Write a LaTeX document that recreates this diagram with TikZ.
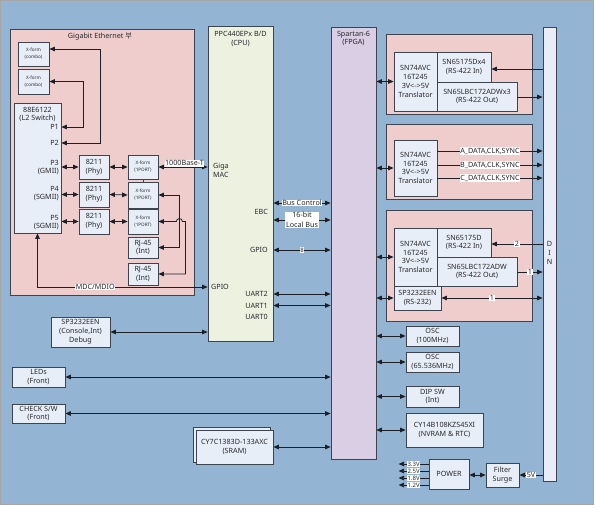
\documentclass[tikz,border=0pt]{standalone}
\usepackage{fontspec}
\setmainfont{Noto Sans}
\newfontfamily\krfont{Noto Sans CJK KR}
\usetikzlibrary{arrows.meta}
\definecolor{bgblue}{RGB}{148,180,211}
\definecolor{pinkbg}{RGB}{239,205,205}
\definecolor{boxbg}{RGB}{232,238,247}
\definecolor{cpubg}{RGB}{237,241,224}
\definecolor{fpgabg}{RGB}{217,206,227}
\definecolor{dinbg}{RGB}{234,237,247}
\definecolor{edgegray}{RGB}{62,68,78}
\definecolor{linegray}{RGB}{28,32,38}
\definecolor{txtgray}{RGB}{40,40,45}
\newcommand{\fnt}{\fontsize{7.2}{8.8}\selectfont}
\newcommand{\tfnt}{\fontsize{4.6}{7}\selectfont}
\newcommand{\pfnt}{\fontsize{6}{6}\selectfont}

\begin{document}
\begin{tikzpicture}
  [x=1pt,y=-1pt,>={Triangle[length=5.5pt,width=4.6pt]},
   every node/.style={font=\fnt,inner sep=0pt,align=center,text=txtgray},
   bx/.style 2 args={minimum width=#1,minimum height=#2},
   grp/.style={draw=edgegray,fill=pinkbg,line width=0.9pt},
   blk/.style={draw=edgegray,fill=boxbg,line width=0.8pt},
   lbl/.style={fill=white,inner sep=0.6pt},
   link/.style={<->,draw=linegray,line width=0.8pt},
   arr/.style={->,draw=linegray,line width=0.8pt}]

  \useasboundingbox (0,0) rectangle (595,507);
  \fill[white] (0,0) rectangle (595,507);
  \draw[fill=bgblue,draw=gray!70] (0.5,0.5) rectangle (593,504);

  % gigabit ethernet part
  \node[grp,bx={184}{266}] (geth) at (102,162) {};
  \node (gtitle) at (100,37) {Gigabit Ethernet {\krfont 부}};
  \node[blk,bx={31}{24},font=\tfnt] (xfc1) at (33.5,54) {X-form\\(combo)};
  \node[blk,bx={31}{25},font=\tfnt] (xfc2) at (33.5,81.5) {X-form\\(combo)};
  \node[blk,bx={47}{130}] (sw) at (37.5,168) {};
  \node (swname) at (37.5,114.5) {88E6122\\(L2 Switch)};
  \node[anchor=east] (p1) at (59,127) {P1};
  \node[anchor=east] (p2) at (59,143) {P2};
  \node[anchor=east,align=right] (p3) at (59,167.5) {P3\\(GMII)};
  \node[anchor=east,align=right] (p4) at (59,193.5) {P4\\(SGMII)};
  \node[anchor=east,align=right] (p5) at (59,222.5) {P5\\(SGMII)};

  \node[blk,bx={30}{24}] (phy1) at (94,167) {8211\\(Phy)};
  \node[blk,bx={30}{25}] (phy2) at (94,194.5) {8211\\(Phy)};
  \node[blk,bx={30}{25}] (phy3) at (94,221.5) {8211\\(Phy)};
  \node[blk,bx={30}{24},font=\tfnt] (xf1) at (143,167) {X-form\\(1PORT)};
  \node[blk,bx={30}{26},font=\tfnt] (xf2) at (143,195) {X-form\\(1PORT)};
  \node[blk,bx={30}{25},font=\tfnt] (xf3) at (143,221.5) {X-form\\(1PORT)};
  \node[blk,bx={30}{21}] (rj1) at (143,247.5) {RJ-45\\(Int)};
  \node[blk,bx={30}{22}] (rj2) at (143,274) {RJ-45\\(Int)};

  % cpu and fpga
  \node[draw=edgegray,fill=cpubg,line width=0.8pt,bx={65}{315}] (cpu) at (240.5,183.5) {};
  \node (cpuname) at (240.5,39) {PPC440EPx B/D\\(CPU)};
  \node[anchor=west,align=left,font=\fontsize{7.2}{9}\selectfont] (giga) at (213,170.5) {Giga\\MAC};
  \node[anchor=east] (ebc) at (268,212) {EBC};
  \node[anchor=east] (gpioR) at (268,250) {GPIO};
  \node[anchor=west] (gpioL) at (211,287) {GPIO};
  \node[anchor=east] (uart2) at (268,294) {UART2};
  \node[anchor=east] (uart1) at (268,305.5) {UART1};
  \node[anchor=east] (uart0) at (268,317) {UART0};

  \node[draw=edgegray,fill=fpgabg,line width=0.8pt,bx={45}{432}] (fpga) at (353.5,243) {};
  \node (fpganame) at (353.5,38.5) {Spartan-6\\(FPGA)};

  \node[draw=edgegray,fill=dinbg,line width=0.8pt,bx={13}{454}] (din) at (549.5,254) {};
  \node[font=\fontsize{7.2}{9}\selectfont] (dinlbl) at (549.5,253) {D\\I\\N};

  % rs-422 / sync groups
  \node[grp,bx={146}{80}] (grp1) at (459,74) {};
  \node[blk,bx={43}{59}] (tr1) at (415.5,81.5) {SN74AVC\\16T245\\3V<->5V\\Translator};
  \node[blk,bx={54}{30}] (rin1) at (464,67) {SN65175Dx4\\(RS-422 In)};
  \node[blk,bx={80}{29}] (rout1) at (477,96.5) {SN65LBC172ADWx3\\(RS-422 Out)};

  \node[grp,bx={146}{75}] (grp2) at (459,161.5) {};
  \node[blk,bx={43}{56}] (tr2) at (415.5,168) {SN74AVC\\16T245\\3V<->5V\\Translator};

  \node[grp,bx={146}{111}] (grp3) at (459,265.5) {};
  \node[blk,bx={43}{58}] (tr3) at (415.5,257) {SN74AVC\\16T245\\3V<->5V\\Translator};
  \node[blk,bx={54}{29}] (rin3) at (464,242.5) {SN65175D\\(RS-422 In)};
  \node[blk,bx={80}{29}] (rout3) at (477,271.5) {SN65LBC172ADW\\(RS-422 Out)};
  \node[blk,bx={47}{24}] (rs232) at (417.5,298) {SP3232EEN\\(RS-232)};

  % lower right
  \node[blk,bx={53}{20}] (osc1) at (432.5,336) {OSC\\(100MHz)};
  \node[blk,bx={53}{20}] (osc2) at (432.5,362) {OSC\\(65.536MHz)};
  \node[blk,bx={53}{21}] (dip) at (432.5,396.5) {DIP SW\\(Int)};
  \node[blk,bx={77}{34}] (nvram) at (444.5,430) {CY14B108KZS45XI\\(NVRAM \& RTC)};
  \node[blk,bx={40}{30}] (power) at (449,474) {POWER};
  \node[blk,bx={33}{24}] (filt) at (502.5,475) {Filter\\Surge};

  % lower left
  \node[blk,bx={59}{30}] (dbg) at (80.5,332) {SP3232EEN\\(Console,Int)\\Debug};
  \node[blk,bx={53}{20}] (leds) at (38.5,377) {LEDs\\(Front)};
  \node[blk,bx={53}{19}] (chk) at (38.5,413.5) {CHECK S/W\\(Front)};
  \node[blk,bx={77}{35}] (sramb) at (231.5,444.5) {};
  \node[blk,bx={77}{34}] (sram) at (234.5,447) {CY7C1383D-133AXC\\(SRAM)};

  % ethernet links
  \draw[link] ([yshift=5pt]xfc1.east) -- ++(51,0) |- (sw.east |- p2);
  \draw[link] (xfc2.east) -- ++(34,0) |- (sw.east |- p1);
  \foreach \n in {1,2,3} {
    \draw[link] (phy\n.west) -- (phy\n.west -| sw.east);
    \draw[link] (phy\n.east) -- (xf\n.west);
  }
  \draw[edgegray] (xf1.south) -- (xf2.north);
  \draw[link] (xf2.east) -- ++(21,0) |- (rj1.east);
  \draw[link] (xf3.east) -- ++(18,0) arc[start angle=180,end angle=360,radius=3] -- ++(3,0) |- (rj2.east);
  \draw[link] (xf1.east) -- node[lbl,above,pos=0.53]{1000Base-T} (xf1.east -| cpu.west);
  \draw[link] (cpu.west |- gpioL) -| node[lbl,pos=0.33]{MDC/MDIO} (sw.south);

  % cpu - fpga
  \draw[link] (cpu.east |- 0,203) -- node[lbl]{Bus Control} (fpga.west |- 0,203);
  \draw[link] (cpu.east |- 0,220) -- node[lbl,font=\fontsize{7.2}{9.5}\selectfont]{16-bit\\Local Bus} (fpga.west |- 0,220);
  \draw[link] (cpu.east |- gpioR) -- node[lbl,font=\pfnt]{8} (fpga.west |- gpioR);
  \foreach \u in {uart2,uart1}
    \draw[link] (cpu.east |- \u) -- (fpga.west |- \u);

  % fpga - right side
  \foreach \b in {tr1,tr2,tr3,rs232,osc1,osc2,dip,nvram}
    \draw[link] (fpga.east |- \b) -- (\b.west);
  \draw[arr] (din.west |- 0,69) -- (rin1.east |- 0,69);
  \draw[arr] (rout1.east |- 0,97) -- (din.west |- 0,97);
  \foreach \c/\y in {A/151,B/165,C/178}
    \draw[arr] (tr2.east |- 0,\y) -- node[lbl]{\c\_DATA,CLK,SYNC} (din.west |- 0,\y);
  \draw[arr] (din.west |- 0,244) -- node[lbl]{2} (rin3.east |- 0,244);
  \draw[arr] (rout3.east |- 0,272) -- node[lbl]{1} (din.west |- 0,272);
  \draw[link] (rs232.east) -- node[lbl]{1} (rs232.east -| din.west);

  % power
  \foreach \v/\y in {3.3V/464,2.5V/471,1.8V/478,1.2V/485}
    \draw[arr] (power.west |- 0,\y) -- node[lbl,font=\pfnt]{\v} ++(-30,0);
  \draw[link] (power.east |- filt) -- (filt.west);
  \draw[arr] (din.west |- filt) -- node[lbl]{5V} (filt.east);

  % fpga / cpu - left side
  \draw[link] (dbg.east) -- (dbg.east -| cpu.west);
  \foreach \b in {leds,chk,sram}
    \draw[link] (\b.east) -- (\b.east -| fpga.west);

\end{tikzpicture}
\end{document}
